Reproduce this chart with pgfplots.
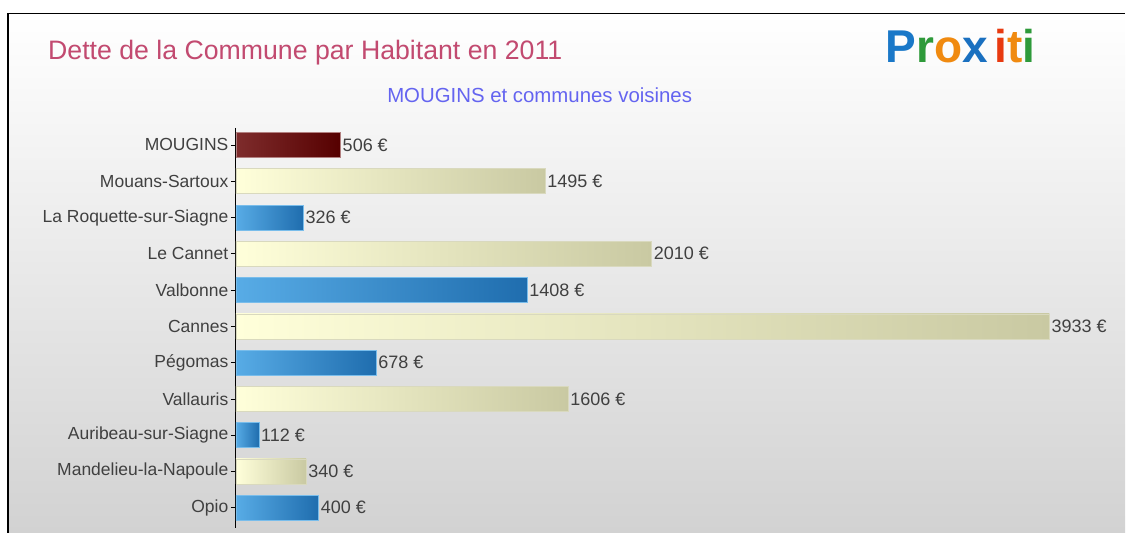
\documentclass[border=0pt]{standalone}
\usepackage{pgfplots}
\pgfplotsset{compat=1.18}
\usepackage{fontspec}
\setmainfont{Liberation Sans}
\definecolor{titlecol}{HTML}{C24A70}
\definecolor{subcol}{HTML}{6464F0}
\definecolor{labcol}{HTML}{404040}
\definecolor{redL}{HTML}{7E2C2C}
\definecolor{redR}{HTML}{560000}
\definecolor{bluL}{HTML}{58ACE6}
\definecolor{bluR}{HTML}{1F6DAE}
\definecolor{begL}{HTML}{FFFFDA}
\definecolor{begR}{HTML}{C9C9A2}
\definecolor{bgtop}{HTML}{FFFFFF}
\definecolor{bgbot}{HTML}{D2D2D2}
\begin{document}
\begin{tikzpicture}
% page & background
\fill[white] (0pt,0pt) rectangle (1126pt,533pt);
\shade[top color=bgtop, bottom color=bgbot] (9pt,0pt) rectangle (1126pt,519pt);
\draw[black, line width=1.6pt] (8.2pt,0pt) -- (8.2pt,519.5pt) -- (1126pt,519.5pt);
% title
\node[anchor=base west, text=titlecol, inner sep=0pt] at (48pt,473pt)
  {\fontsize{26.7}{30}\selectfont Dette de la Commune par Habitant en 2011};
\node[anchor=base, text=subcol, inner sep=0pt] at (540pt,430pt)
  {\fontsize{20.4}{24}\selectfont MOUGINS et communes voisines};
% logo
\node[anchor=base west, inner sep=0pt] at (886pt,470pt)
  {\fontsize{46}{50}\selectfont\bfseries
   \textcolor[HTML]{1A78C8}{P}\textcolor[HTML]{2E9A3A}{r}\textcolor[HTML]{F08A10}{o}\textcolor[HTML]{1A70C0}{x}\hspace{7pt}\textcolor[HTML]{E83A10}{i}\textcolor[HTML]{F08A10}{t}\textcolor[HTML]{2E9A3A}{i}};
\begin{axis}[
  at={(236pt,5pt)}, anchor=south west,
  scale only axis, width=828pt, height=400pt,
  xmin=0, xmax=4000,
  ymin=-0.47, ymax=10.55, y dir=reverse,
  axis x line=none,
  axis y line*=left,
  y axis line style={black, line width=1pt, -},
  ytick={0,...,10},
  yticklabels={MOUGINS,Mouans-Sartoux,La Roquette-sur-Siagne,Le Cannet,Valbonne,Cannes,Pégomas,Vallauris,Auribeau-sur-Siagne,Mandelieu-la-Napoule,Opio},
  yticklabel style={font=\fontsize{17.5}{20}\selectfont, text=labcol, xshift=1pt},
  tick align=outside, major tick length=5pt,
  ytick style={black, line width=0.6pt},
  xbar, bar width=25pt, bar shift=0pt,
  nodes near coords={\pgfmathprintnumber{\pgfplotspointmeta} €},
  point meta=x,
  nodes near coords style={font=\fontsize{18}{20}\selectfont, text=labcol, inner sep=2pt, anchor=west},
  /pgf/number format/.cd, 1000 sep={}, assume math mode=true,
  /pgfplots/.cd,
  redbar/.style={draw=redL!60!white, line width=0.5pt, left color=redL, right color=redR},
  begbar/.style={draw=begR!70!white, line width=0.5pt, left color=begL, right color=begR},
  blubar/.style={draw=bluL!80!white, line width=0.5pt, left color=bluL, right color=bluR},
]
\addplot[redbar] coordinates {(506,0)};
\addplot[begbar] coordinates {(1495,1)};
\addplot[blubar] coordinates {(326,2)};
\addplot[begbar] coordinates {(2010,3)};
\addplot[blubar] coordinates {(1408,4)};
\addplot[begbar] coordinates {(3933,5)};
\addplot[blubar] coordinates {(678,6)};
\addplot[begbar] coordinates {(1606,7)};
\addplot[blubar] coordinates {(112,8)};
\addplot[begbar] coordinates {(340,9)};
\addplot[blubar] coordinates {(400,10)};
\end{axis}
\end{tikzpicture}
\end{document}
